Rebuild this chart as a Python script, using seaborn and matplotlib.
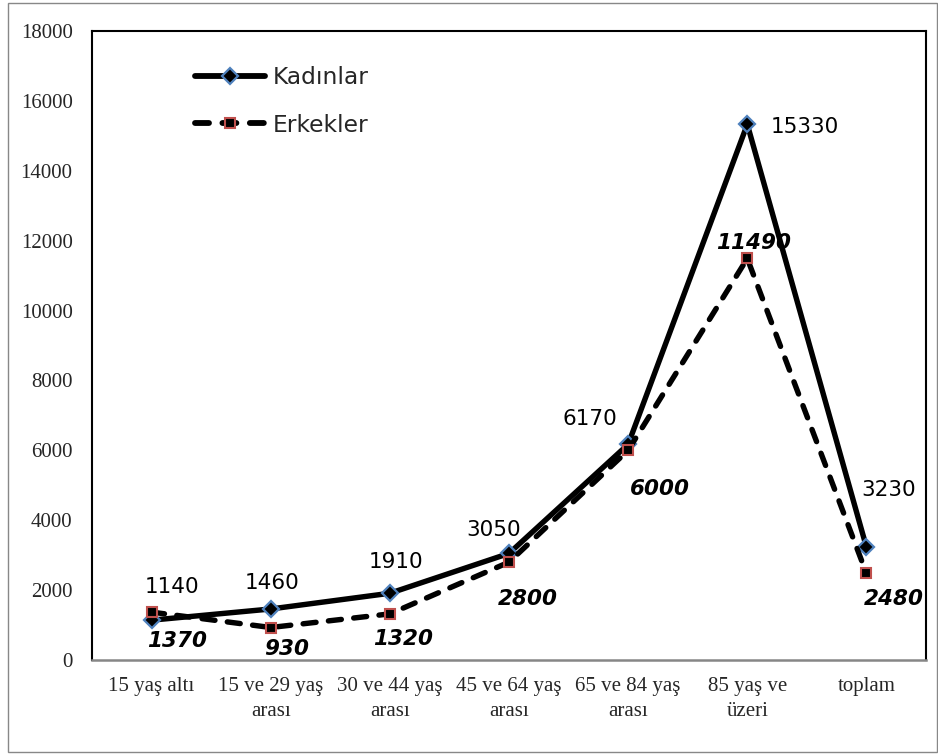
import matplotlib
matplotlib.use("Agg")
import matplotlib.pyplot as plt
from matplotlib.patches import Rectangle
import seaborn as sns
import pandas as pd

categories = ["15 yaş altı", "15 ve 29 yaş\narası", "30 ve 44 yaş\narası",
              "45 ve 64 yaş\narası", "65 ve 84 yaş\narası", "85 yaş ve\nüzeri", "toplam"]
kadinlar = [1140, 1460, 1910, 3050, 6170, 15330, 3230]
erkekler = [1370, 930, 1320, 2800, 6000, 11490, 2480]
yticks = [0, 2000, 4000, 6000, 8000, 10000, 12000, 14000, 16000, 18000]

# label offsets (pixels, text centre relative to point)
k_off = [(20, 35), (1, 28), (6, 33), (-15, 25), (-38, 27), (58, -1), (22, 59)]
e_off = [(26, -27), (16, -20), (13, -23), (19, -35), (32, -37), (6, 17), (27, -24)]

sns.set_style("white")
plt.rcParams['font.family'] = ['DejaVu Sans']

W, H = 938, 755
fig = plt.figure(figsize=(W / 100, H / 100), dpi=100)
fig.patches.append(Rectangle((8 / W, 3 / H), 929 / W, 749 / H, transform=fig.transFigure,
                             fill=False, edgecolor="#888888", linewidth=1.0, zorder=0))
ax = fig.add_axes([92 / W, 1 - 660 / H, 834 / W, 629 / H])

x = list(range(len(categories)))
df = pd.DataFrame({"x": x, "Kadınlar": kadinlar, "Erkekler": erkekler})

sns.lineplot(data=df, x="x", y="Kadınlar", ax=ax, color="black", linewidth=3.9,
             marker="D", markersize=8, markerfacecolor="black", markeredgecolor="#4F81BD",
             markeredgewidth=1.6, label="Kadınlar", solid_capstyle="round", zorder=3)
sns.lineplot(data=df, x="x", y="Erkekler", ax=ax, color="black", linewidth=3.9,
             marker="s", markersize=7.5, markerfacecolor="black", markeredgecolor="#C0504D",
             markeredgewidth=1.5, label="Erkekler", dashes=False, zorder=3)
ln = ax.get_lines()[-1]
ln.set_dashes((2.4, 2.3))
ln.set_dash_capstyle("round")

for xi, v, (dx, dy) in zip(x, kadinlar, k_off):
    ax.annotate(f"{v}", (xi, v), xytext=(dx, dy - 7.7), textcoords="offset pixels",
                ha="center", va="baseline", fontsize=15.5, color="black",
                family="DejaVu Sans", zorder=5)
for xi, v, (dx, dy) in zip(x, erkekler, e_off):
    ax.annotate(f"{v}", (xi, v), xytext=(dx, dy - 7.7), textcoords="offset pixels",
                ha="center", va="baseline", fontsize=15.5, color="black",
                fontweight="bold", fontstyle="italic", family="DejaVu Sans", zorder=5)

ax.set_xlim(-0.5, len(categories) - 0.5)
ax.set_ylim(0, 18000)
ax.set_yticks(yticks)
ax.set_yticklabels([str(t) for t in yticks], family="Liberation Serif", fontsize=15)
ax.set_xticks(x)
ax.set_xticklabels(categories, family="Liberation Serif", fontsize=15, linespacing=1.45)
ax.set_xticks([i - 0.5 for i in range(len(categories) + 1)], minor=True)
ax.tick_params(axis="x", which="major", length=0, pad=12)
ax.tick_params(axis="x", which="minor", length=6, width=1.5, color="#868686", direction="out")
ax.tick_params(axis="y", length=0, pad=14)
ax.set_xlabel("")
ax.set_ylabel("")

for s in ["top", "right", "left"]:
    ax.spines[s].set_color("black")
    ax.spines[s].set_linewidth(1.5)
    ax.spines[s].set_visible(True)
ax.spines["bottom"].set_color("#868686")
ax.spines["bottom"].set_linewidth(1.8)
ax.grid(False)

leg = ax.legend(loc="upper left", bbox_to_anchor=((195 - 92) / 834, (660 - 66) / 629),
                frameon=False, borderpad=0, borderaxespad=0, handlelength=3.0,
                handletextpad=0.35, labelspacing=1.05, prop={"family": "DejaVu Sans", "size": 16.8})
for h in leg.get_lines():
    h.set_linewidth(4.2)

fig.savefig("out.png", dpi=100)
